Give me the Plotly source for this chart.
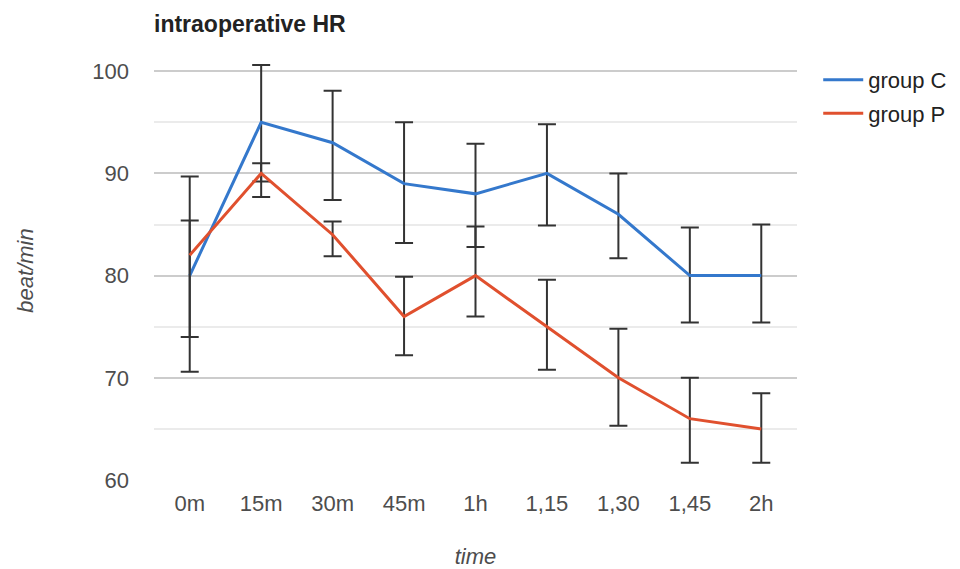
import plotly.graph_objects as go

# Time points of the intraoperative measurements
times = ["0m", "15m", "30m", "45m", "1h", "1,15", "1,30", "1,45", "2h"]

# Mean heart rate (beat/min) per group
group_c = [80, 95, 93, 89, 88, 90, 86, 80, 80]
group_p = [82, 90, 84, 76, 80, 75, 70, 66, 65]

# Lower / upper ends of the error bars
group_c_low = [70.6, 89.2, 87.4, 83.2, 82.8, 84.9, 81.7, 75.4, 75.4]
group_c_high = [89.7, 100.6, 98.1, 95.0, 92.9, 94.8, 90.0, 84.7, 85.0]
group_p_low = [74.0, 87.7, 81.9, 72.2, 76.0, 70.8, 65.3, 61.7, 61.7]
group_p_high = [85.4, 91.0, 85.3, 79.9, 84.8, 79.6, 74.8, 70.0, 68.5]

y_ticks = [60, 70, 80, 90, 100]

FONT = "Liberation Sans, Arial, sans-serif"
BAR_COLOR = "#333333"
TEXT = "#4d4d4d"


def err(values, low, high):
    return dict(
        type="data",
        symmetric=False,
        array=[h - v for v, h in zip(values, high)],
        arrayminus=[v - l for v, l in zip(values, low)],
        color=BAR_COLOR,
        thickness=2,
        width=9,
    )


fig = go.Figure()
fig.add_trace(go.Scatter(
    x=times, y=group_c, name="group C", mode="lines", legendgroup="c",
    line=dict(color="#3478cc", width=3),
    error_y=err(group_c, group_c_low, group_c_high),
))
fig.add_trace(go.Scatter(
    x=times, y=group_p, name="group P", mode="lines", legendgroup="p",
    line=dict(color="#e0502e", width=3),
    error_y=err(group_p, group_p_low, group_p_high),
))

fig.update_layout(
    width=960, height=569,
    # the y range runs a little past 100 so the tallest error bar cap is not cut
    margin=dict(l=154, r=163, t=61, b=89, autoexpand=False),
    paper_bgcolor="white", plot_bgcolor="white",
    font=dict(family=FONT, size=22, color=TEXT),
    title=dict(
        text="<b>intraoperative HR</b>",
        font=dict(family=FONT, size=23, color="#222222"),
        x=154 / 960, xanchor="left", y=1 - 24 / 569, yanchor="middle",
    ),
    showlegend=True,
    legend=dict(
        x=1.033, y=1.005, xanchor="left", yanchor="top",
        font=dict(family=FONT, size=22, color="#222222"),
        bgcolor="rgba(0,0,0,0)", tracegroupgap=2, itemwidth=40,
    ),
    xaxis=dict(
        type="category", range=[-0.5, 8.5],
        showgrid=False, zeroline=False, showline=False,
        ticks="", ticklabelstandoff=8,
        tickfont=dict(size=22, color=TEXT),
        title=dict(text="<i>time</i>", font=dict(size=22, color=TEXT), standoff=38),
    ),
    yaxis=dict(
        range=[60, 101], tickvals=y_ticks,
        showgrid=True, gridcolor="#cccccc", gridwidth=1.5,
        minor=dict(tickvals=[65, 75, 85, 95], showgrid=True, gridcolor="#ebebeb", gridwidth=1.5),
        zeroline=False, showline=False, ticks="", ticklabelstandoff=24,
        tickfont=dict(size=22, color=TEXT),
        title=dict(text="<i>beat/min</i>", font=dict(size=22, color=TEXT), standoff=52),
    ),
)

fig.write_html("out.html")
